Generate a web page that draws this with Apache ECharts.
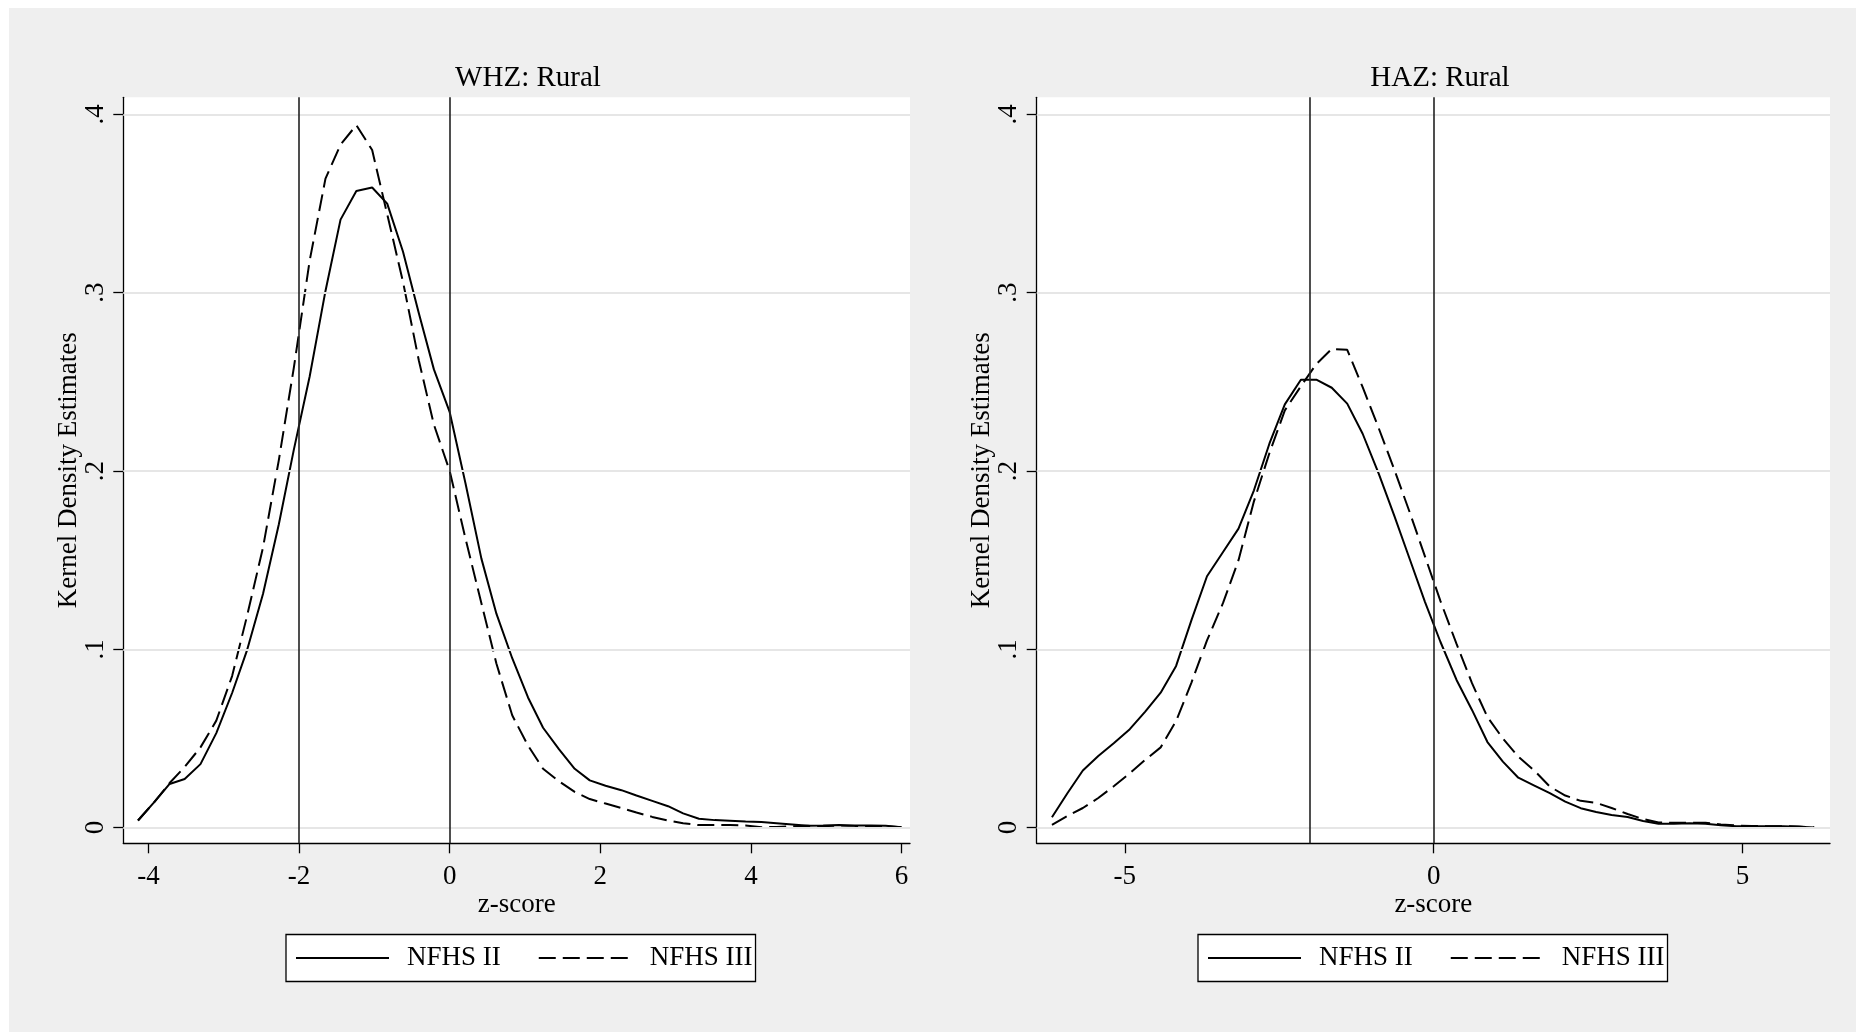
<!DOCTYPE html>
<html>
<head>
<meta charset="utf-8">
<title>Kernel density estimates: WHZ and HAZ, rural</title>
<script src="https://cdn.jsdelivr.net/npm/echarts@6/dist/echarts.min.js"></script>
<style>
  html, body { margin: 0; padding: 0; background: #fff; }
  #bg { position: absolute; left: 9px; top: 8px; width: 1847px; height: 1024px; background: #efefef; }
  #chart { position: absolute; left: 0; top: 0; width: 1856px; height: 1036px; }
</style>
</head>
<body>
<div id="bg"></div>
<div id="chart"></div>
<script>
// WHZ: Rural - evaluation points (z-score) and density estimates
const whzZ = [-4.14, -3.93, -3.72, -3.52, -3.31, -3.10, -2.89, -2.69, -2.48, -2.27,
  -2.07, -1.86, -1.65, -1.45, -1.24, -1.03, -0.83, -0.62, -0.41, -0.21,
  0.00, 0.21, 0.42, 0.62, 0.83, 1.04, 1.24, 1.45, 1.66, 1.86,
  2.07, 2.28, 2.48, 2.69, 2.90, 3.10, 3.31, 3.52, 3.72, 3.93,
  4.14, 4.34, 4.55, 4.76, 4.96, 5.17, 5.38, 5.59, 5.79, 6.00];
const whzNfhs2 = [0.004, 0.014, 0.0245, 0.0273, 0.0356, 0.053, 0.0755, 0.0997, 0.131, 0.170,
  0.212, 0.253, 0.301, 0.341, 0.357, 0.359, 0.350, 0.323, 0.2885, 0.257,
  0.233, 0.193, 0.151, 0.120, 0.095, 0.073, 0.056, 0.044, 0.033, 0.0265,
  0.0235, 0.021, 0.018, 0.015, 0.012, 0.008, 0.005, 0.0042, 0.0038, 0.0034,
  0.0031, 0.0025, 0.0018, 0.0011, 0.0012, 0.0014, 0.0012, 0.0012, 0.001, 0.0002];
const whzNfhs3 = [0.004, 0.014, 0.025, 0.034, 0.045, 0.060, 0.085, 0.119, 0.157, 0.206,
  0.258, 0.318, 0.364, 0.383, 0.394, 0.380, 0.344, 0.306, 0.262, 0.226,
  0.200, 0.162, 0.126, 0.092, 0.063, 0.046, 0.033, 0.026, 0.020, 0.016,
  0.0135, 0.011, 0.0085, 0.006, 0.004, 0.0025, 0.0014, 0.0014, 0.0014, 0.0012,
  0.0002, 0.0004, 0.0008, 0.001, 0.0005, 0.0001, 0.0003, 0.0009, 0.0007, 0.0002];

// HAZ: Rural
const hazZ = [-6.18, -5.93, -5.68, -5.43, -5.18, -4.92, -4.67, -4.42, -4.17, -3.92,
  -3.67, -3.41, -3.16, -2.91, -2.66, -2.41, -2.15, -1.90, -1.65, -1.40,
  -1.15, -0.89, -0.64, -0.39, -0.14, 0.11, 0.37, 0.62, 0.87, 1.12,
  1.37, 1.63, 1.88, 2.13, 2.38, 2.63, 2.88, 3.14, 3.39, 3.64,
  3.89, 4.14, 4.40, 4.65, 4.90, 5.15, 5.40, 5.66, 5.91, 6.16];
const hazNfhs2 = [0.0058, 0.0193, 0.032, 0.0402, 0.0473, 0.0552, 0.0651, 0.0757, 0.0907, 0.1165,
  0.141, 0.1546, 0.1677, 0.1892, 0.2153, 0.2374, 0.2512, 0.2512, 0.2467, 0.2378,
  0.2209, 0.1985, 0.1751, 0.1508, 0.1265, 0.1041, 0.0828, 0.066, 0.048, 0.037,
  0.028, 0.0236, 0.0193, 0.0146, 0.0109, 0.0088, 0.0071, 0.006, 0.0037, 0.0022,
  0.0021, 0.0024, 0.0022, 0.0013, 0.0008, 0.0007, 0.0007, 0.0007, 0.0005, 0.0];
const hazNfhs3 = [0.0015, 0.0065, 0.011, 0.0166, 0.0232, 0.0305, 0.038, 0.045, 0.0598, 0.0815,
  0.105, 0.126, 0.150, 0.183, 0.210, 0.234, 0.2475, 0.260, 0.2685, 0.268,
  0.247, 0.224, 0.201, 0.177, 0.152, 0.127, 0.103, 0.081, 0.062, 0.050,
  0.0398, 0.032, 0.023, 0.018, 0.015, 0.0139, 0.011, 0.0076, 0.0048, 0.0029,
  0.0027, 0.0027, 0.0027, 0.0018, 0.0012, 0.0009, 0.0008, 0.0008, 0.0006, 0.0001];

const seriesNames = ['NFHS II', 'NFHS III'];
const panelTitles = ['WHZ: Rural', 'HAZ: Rural'];
const whzTicks = [-4, -2, 0, 2, 4, 6];
const hazTicks = [-5, 0, 5];
const densityTicks = [0, 0.1, 0.2, 0.3, 0.4];
const cutoffs = [-2, 0];

const FONT = '"Liberation Serif", "DejaVu Serif", serif';
const zip = (xs, ys) => xs.map((x, i) => [x, ys[i]]);
const densityLabel = (v) => (v === 0 ? '0' : String(v).replace(/^0\./, '.'));

const makeX = (gridIndex, min, max, ticks) => ({
  type: 'value',
  gridIndex,
  min,
  max,
  name: 'z-score',
  nameLocation: 'middle',
  nameGap: 48,
  nameMoveOverlap: false,
  nameTextStyle: { fontFamily: FONT, fontSize: 27, color: '#000' },
  axisLine: { show: true, onZero: false, lineStyle: { color: '#000', width: 1.3 } },
  axisTick: { show: true, length: 10, customValues: ticks, lineStyle: { color: '#000', width: 1.3 } },
  axisLabel: { customValues: ticks, margin: 20, fontFamily: FONT, fontSize: 27, color: '#000' },
  splitLine: { show: false },
});

const makeY = (gridIndex) => ({
  type: 'value',
  gridIndex,
  min: -0.0088,
  max: 0.4096,
  name: 'Kernel Density Estimates',
  nameLocation: 'middle',
  nameRotate: 90,
  nameGap: 41,
  nameMoveOverlap: false,
  nameTextStyle: { fontFamily: FONT, fontSize: 27, color: '#000' },
  axisLine: { show: true, onZero: false, lineStyle: { color: '#000', width: 1.3 } },
  axisTick: { show: true, length: 10, customValues: densityTicks, lineStyle: { color: '#000', width: 1.3 } },
  axisLabel: {
    customValues: densityTicks, rotate: 90, margin: 14,
    fontFamily: FONT, fontSize: 27, color: '#000', formatter: densityLabel,
  },
  splitLine: { show: false },
});

// gridlines and the -2 / 0 cut-off lines sit under the curves
const backdrop = (idx) => ({
  type: 'line',
  name: 'backdrop' + idx,
  xAxisIndex: idx,
  yAxisIndex: idx,
  data: [],
  z: 1,
  silent: true,
  markLine: {
    silent: true,
    symbol: ['none', 'none'],
    label: { show: false },
    animation: false,
    data: densityTicks.map((v) => ({ yAxis: v, lineStyle: { color: '#e6e6e6', width: 1.8, type: 'solid' } }))
      .concat(cutoffs.map((v) => ({ xAxis: v, lineStyle: { color: '#222', width: 1.6, type: 'solid' } }))),
  },
});

const curve = (idx, name, xs, ys, dashed) => ({
  type: 'line',
  name,
  xAxisIndex: idx,
  yAxisIndex: idx,
  data: zip(xs, ys),
  showSymbol: false,
  symbol: 'none',
  z: 3,
  lineStyle: { color: '#000', width: 2, type: dashed ? [17, 7] : 'solid' },
  itemStyle: { color: '#000' },
});

// legend keys are plain line samples, no marker in the middle
const makeLegend = (left) => ({
  left,
  top: 934.5,
  orient: 'horizontal',
  data: seriesNames,
  selectedMode: false,
  backgroundColor: '#fff',
  borderColor: '#000',
  borderWidth: 1.3,
  borderRadius: 0,
  padding: [10, 3, 10, 9],
  itemWidth: 93,
  itemHeight: 27,
  itemGap: 37,
  itemStyle: { opacity: 0 },
  lineStyle: { width: 2 },
  textStyle: { fontFamily: FONT, fontSize: 27, color: '#000', padding: [0, 0, 0, 13] },
});

const chart = echarts.init(document.getElementById('chart'), null, { renderer: 'canvas' });

chart.setOption({
  animation: false,
  backgroundColor: 'transparent',
  title: [
    { text: panelTitles[0], left: 528, top: 63.5, textAlign: 'center', padding: 0,
      textStyle: { fontFamily: FONT, fontSize: 29, fontWeight: 'normal', color: '#000' } },
    { text: panelTitles[1], left: 1440, top: 63.5, textAlign: 'center', padding: 0,
      textStyle: { fontFamily: FONT, fontSize: 29, fontWeight: 'normal', color: '#000' } },
  ],
  legend: [makeLegend(286), makeLegend(1198)],
  grid: [
    { left: 123.3, top: 97.3, width: 786.7, height: 746, show: true, backgroundColor: '#fff', borderWidth: 0, outerBoundsMode: 'none' },
    { left: 1036.7, top: 97.3, width: 793.3, height: 746, show: true, backgroundColor: '#fff', borderWidth: 0, outerBoundsMode: 'none' },
  ],
  xAxis: [makeX(0, -4.335, 6.113, whzTicks), makeX(1, -6.427, 6.416, hazTicks)],
  yAxis: [makeY(0), makeY(1)],
  series: [
    backdrop(0),
    backdrop(1),
    curve(0, seriesNames[0], whzZ, whzNfhs2, false),
    curve(0, seriesNames[1], whzZ, whzNfhs3, true),
    curve(1, seriesNames[0], hazZ, hazNfhs2, false),
    curve(1, seriesNames[1], hazZ, hazNfhs3, true),
  ],
});
</script>
</body>
</html>
